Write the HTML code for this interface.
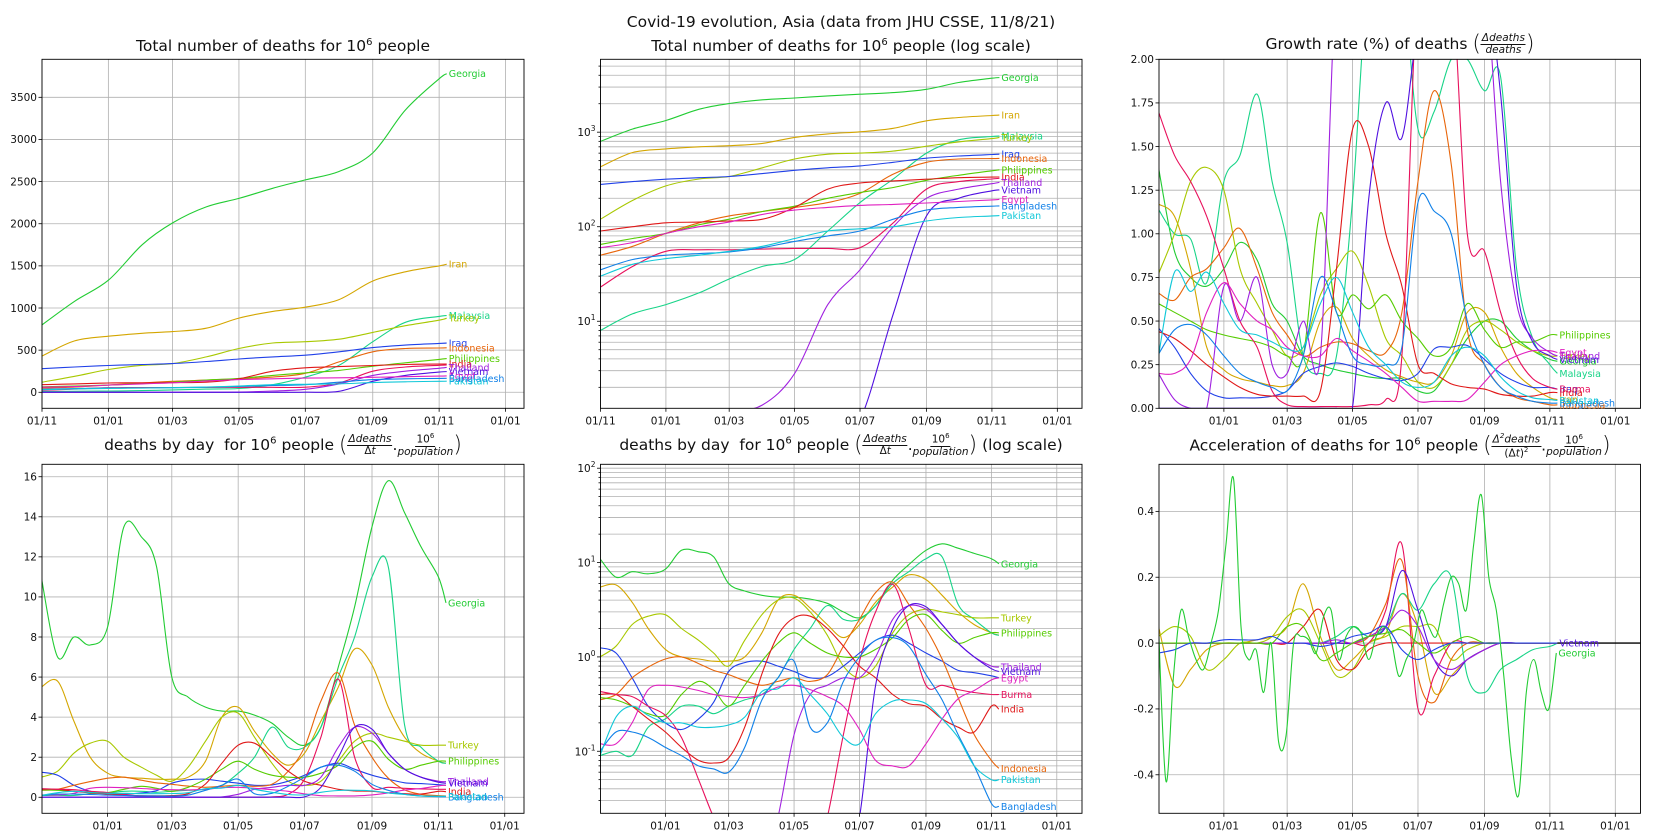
<!DOCTYPE html>
<html><head><meta charset="utf-8">
<style>
html,body{margin:0;padding:0;background:#fff;width:1675px;height:840px;overflow:hidden;font-family:"DejaVu Sans","Liberation Sans",sans-serif;}
#wrap{position:relative;width:1675px;height:840px;overflow:hidden;}
svg{position:absolute;left:0;top:0;}
.t{position:absolute;font-size:15.5px;color:#111;white-space:nowrap;transform:translateX(-50%);line-height:1;}
.fr{display:inline-flex;flex-direction:column;align-items:center;vertical-align:middle;font-size:10.5px;font-style:italic;line-height:1.05;}
.fr span:first-child{border-bottom:1px solid #111;padding:0 1px;}
.par{font-size:22px;vertical-align:middle;font-weight:100;}
</style></head><body>
<div id="wrap">
<svg id="s" width="1675" height="840"></svg>
<div class="t" style="left:841px;top:15px;">Covid-19 evolution, Asia (data from JHU CSSE, 11/8/21)</div>
<div class="t" style="left:283px;top:38px;">Total number of deaths for 10<sup style="font-size:10px">6</sup> people</div>
<div class="t" style="left:841px;top:38px;">Total number of deaths for 10<sup style="font-size:10px">6</sup> people (log scale)</div>
<div class="t" style="left:1400px;top:33px;">Growth rate (%) of deaths <span class="par">(</span><span class="fr"><span>Δdeaths</span><span>deaths</span></span><span class="par">)</span></div>
<div class="t" style="left:283px;top:433px;">deaths by day&nbsp; for 10<sup style="font-size:10px">6</sup> people <span class="par">(</span><span class="fr"><span>Δdeaths</span><span style="font-style:normal">Δ<i>t</i></span></span>.<span class="fr"><span style="font-style:normal">10<sup style="font-size:7px">6</sup></span><span>population</span></span><span class="par">)</span></div>
<div class="t" style="left:841px;top:433px;">deaths by day&nbsp; for 10<sup style="font-size:10px">6</sup> people <span class="par">(</span><span class="fr"><span>Δdeaths</span><span style="font-style:normal">Δ<i>t</i></span></span>.<span class="fr"><span style="font-style:normal">10<sup style="font-size:7px">6</sup></span><span>population</span></span><span class="par">)</span> (log scale)</div>
<div class="t" style="left:1400px;top:433px;">Acceleration of deaths for 10<sup style="font-size:10px">6</sup> people <span class="par">(</span><span class="fr"><span>Δ<sup style="font-size:7px">2</sup>deaths</span><span style="font-style:normal">(Δ<i>t</i>)<sup style="font-size:7px">2</sup></span></span>.<span class="fr"><span style="font-style:normal">10<sup style="font-size:7px">6</sup></span><span>population</span></span><span class="par">)</span></div>
</div>
<script>
// ---------- data ----------
const monthDays=[0,30,61,92,120,151,181,212,242,273,304,334,365,372];
const halfDays=[0,15,30,45,61,76,92,106,120,135,151,166,181,196,212,227,242,257,273,288,304,319,334,349,365,372];
const weekDays=[0,7,14,21,28,35,42,49,56,63,70,77,84,91,98,105,112,119,126,133,140,147,154,161,168,175,182,189,196,203,210,217,224,231,238,245,252,259,266,273,280,287,294,301,308,315,322,329,336,343,350,357,364,371];
const countries=["Georgia","Iran","Malaysia","Turkey","Iraq","Indonesia","Philippines","India","Burma","Thailand","Vietnam","Egypt","Bangladesh","Pakistan"];
const colors={Georgia:"#22cc33",Iran:"#d4a600",Malaysia:"#18d488",Turkey:"#a8c800",Iraq:"#2040e8",Indonesia:"#e8650a",Philippines:"#55cc00",India:"#e01818",Burma:"#e8105c",Thailand:"#a020e0",Vietnam:"#5010e0",Egypt:"#e020c0",Bangladesh:"#1080e8",Pakistan:"#10c8d8"};
// total deaths per 1e6 (monthDays)
const totGeorgia=[800,1080,1330,1750,2010,2200,2300,2420,2520,2620,2840,3350,3720,3780];
const totIran=[430,610,665,700,720,760,880,960,1010,1100,1320,1430,1500,1520];
const totMalaysia=[8,12,15,20,28,38,45,90,180,320,600,830,900,910];
const totTurkey=[120,190,270,320,340,420,520,585,600,630,710,790,855,880];
const totIraq=[280,300,318,330,340,365,395,420,440,480,530,560,580,585];
const totIndonesia=[50,62,85,110,130,145,160,180,225,360,480,520,525,528];
const totPhilippines=[65,75,85,105,120,145,165,200,230,260,310,350,390,400];
const totIndia=[90,100,110,112,115,120,160,250,290,305,318,330,335,336];
const totBurma=[23,38,55,57,57,58,59,59,60,110,250,300,320,325];
const totThailand=[0.9,0.9,1.0,1.0,1.1,1.3,2.8,15,35,100,200,250,285,295];
const totVietnam=[0.36,0.37,0.37,0.37,0.38,0.38,0.38,0.4,0.9,12,130,200,240,245];
const totEgypt=[60,68,85,100,112,135,150,160,168,172,178,185,192,195];
const totBangladesh=[35,45,50,52,54,60,70,80,90,120,150,160,165,166];
const totPakistan=[30,40,46,50,55,62,75,90,95,100,115,125,130,131];
// deaths by day per 1e6 (halfDays)
const dayGeorgia=[11,7,8,7.6,8.5,13.5,13,11.5,6,5,4.5,4.3,4.3,4.1,3.7,3,2.6,3.5,6.5,9.5,13.5,15.8,14.2,12.5,11,9.7];
const dayIran=[5.5,5.8,3.8,2,1.2,1,0.95,0.9,0.9,1,1.8,4,4.5,3.3,2.2,1.6,2.2,3.8,5.5,7.4,6.6,4.5,3,2.2,1.8,1.7];
const dayMalaysia=[0.09,0.1,0.09,0.18,0.22,0.3,0.3,0.25,0.3,0.35,0.4,0.6,1.2,2,3.5,2.5,2.5,3.5,6,8,11,11.5,3.6,2.5,1.8,1.7];
const dayTurkey=[1,1.3,2.2,2.7,2.8,2,1.5,1.1,0.8,1.5,2.8,4,4.2,3,1.7,0.8,0.6,0.8,1.8,2.8,3.2,3,2.8,2.6,2.6,2.6];
const dayIraq=[1.25,1.1,0.6,0.3,0.2,0.17,0.22,0.33,0.7,0.87,0.9,0.8,0.7,0.6,0.62,0.8,1.1,1.5,1.7,1.4,1.1,0.9,0.72,0.68,0.63,0.6];
const dayIndonesia=[0.35,0.4,0.6,0.78,0.95,1,0.85,0.72,0.65,0.56,0.5,0.55,0.6,0.55,0.65,1.3,2.5,4.8,6.2,3.6,2,0.95,0.37,0.15,0.08,0.066];
const dayPhilippines=[0.37,0.35,0.3,0.25,0.24,0.4,0.55,0.45,0.3,0.5,0.9,1.4,1.8,1.4,1.1,1.0,1.0,1.2,1.6,2.5,2.8,1.9,1.4,1.6,1.8,1.8];
const dayIndia=[0.4,0.4,0.3,0.22,0.16,0.11,0.08,0.075,0.085,0.18,0.66,1.7,2.6,2.7,2,1.3,0.8,0.6,0.4,0.32,0.3,0.22,0.18,0.16,0.3,0.28];
const dayBurma=[0.43,0.4,0.38,0.3,0.24,0.14,0.05,0.02,0.01,0.005,0.005,0.005,0.005,0.005,0.02,0.15,0.9,3,5.9,2,0.5,0.5,0.45,0.42,0.4,0.4];
const dayThailand=[0.005,0.005,0.005,0.005,0.005,0.005,0.005,0.005,0.005,0.005,0.005,0.02,0.15,0.4,0.5,0.6,0.6,1,2.5,3.5,3.2,2.2,1.4,1,0.8,0.78];
const dayVietnam=[0.002,0.002,0.002,0.002,0.002,0.002,0.002,0.002,0.002,0.002,0.002,0.002,0.002,0.002,0.003,0.005,0.02,0.5,2,3.5,3.4,2.2,1.4,1,0.75,0.7];
const dayEgypt=[0.12,0.12,0.2,0.45,0.5,0.48,0.44,0.4,0.38,0.37,0.4,0.48,0.5,0.45,0.38,0.3,0.17,0.08,0.07,0.07,0.12,0.22,0.36,0.44,0.57,0.6];
const dayBangladesh=[0.1,0.16,0.16,0.14,0.11,0.09,0.07,0.065,0.06,0.11,0.35,0.6,0.9,0.18,0.2,0.55,1,1.5,1.6,1.3,0.65,0.35,0.15,0.07,0.028,0.026];
const dayPakistan=[0.09,0.23,0.3,0.24,0.2,0.2,0.18,0.18,0.19,0.23,0.43,0.46,0.6,0.4,0.25,0.14,0.12,0.25,0.34,0.35,0.32,0.22,0.14,0.07,0.05,0.05];
// growth rate % (halfDays)
const grGeorgia=[1.38,0.9,0.75,0.7,0.8,0.95,0.85,0.6,0.5,0.3,0.25,0.22,0.2,0.18,0.17,0.17,0.1,0.1,0.25,0.4,0.5,0.5,0.4,0.33,0.28,0.27];
const grIran=[1.17,1.1,0.8,0.35,0.22,0.17,0.15,0.13,0.13,0.2,0.5,0.58,0.4,0.3,0.22,0.18,0.15,0.15,0.3,0.55,0.55,0.35,0.2,0.12,0.06,0.05];
const grMalaysia=[1.14,1.0,0.97,0.72,1.3,1.45,1.8,1.3,0.95,0.3,0.2,0.3,1.2,2.5,2.5,2.5,1.6,1.7,2.0,2.0,1.82,1.9,0.8,0.4,0.25,0.2];
const grTurkey=[0.77,1.0,1.3,1.38,1.25,0.8,0.6,0.45,0.3,0.35,0.65,0.8,0.9,0.7,0.4,0.3,0.15,0.12,0.25,0.45,0.5,0.45,0.38,0.33,0.3,0.3];
const grIraq=[0.46,0.35,0.2,0.1,0.06,0.06,0.06,0.07,0.1,0.2,0.24,0.26,0.24,0.2,0.17,0.16,0.2,0.34,0.35,0.36,0.28,0.2,0.15,0.12,0.12,0.11];
const grIndonesia=[0.66,0.62,0.75,0.8,0.92,1.03,0.8,0.55,0.42,0.3,0.35,0.38,0.37,0.33,0.32,0.55,1.3,1.82,1.4,0.45,0.25,0.12,0.06,0.04,0.02,0.02];
const grPhilippines=[0.6,0.55,0.5,0.45,0.42,0.4,0.38,0.35,0.3,0.3,1.12,0.55,0.65,0.57,0.65,0.5,0.4,0.3,0.35,0.6,0.45,0.35,0.38,0.38,0.42,0.42];
const grIndia=[0.44,0.4,0.33,0.25,0.18,0.12,0.08,0.07,0.07,0.07,0.1,0.8,1.6,1.5,1.0,0.7,0.25,0.2,0.14,0.12,0.11,0.08,0.07,0.07,0.09,0.09];
const grBurma=[1.7,1.45,1.3,1.1,0.8,0.5,0.35,0.1,0.02,0.01,0.01,0.01,0.01,0.02,0.05,0.3,2.5,2.5,2.5,1.0,0.9,0.55,0.3,0.17,0.12,0.11];
const grThailand=[0.2,0.05,0,0,0.7,0.5,0.75,0.25,0.2,0.5,0.3,2.5,2.5,2.5,2.5,2.5,2.5,2.5,2.5,2.5,2.5,1.3,0.6,0.4,0.32,0.3];
const grVietnam=[0,0,0,0,0,0,0,0,0,0,0,0,0.01,1.2,1.75,1.55,2.2,2.5,2.5,2.5,2.5,1.8,0.7,0.38,0.3,0.28];
const grEgypt=[0.2,0.2,0.28,0.55,0.72,0.6,0.5,0.45,0.35,0.3,0.3,0.4,0.33,0.27,0.2,0.12,0.04,0.04,0.04,0.05,0.15,0.25,0.3,0.33,0.33,0.32];
const grBangladesh=[0.31,0.45,0.48,0.42,0.3,0.2,0.15,0.12,0.1,0.3,0.75,0.55,0.3,0.25,0.25,0.35,1.18,1.13,1.0,0.5,0.25,0.12,0.07,0.04,0.03,0.03];
const grPakistan=[0.3,0.78,0.67,0.78,0.6,0.45,0.42,0.38,0.34,0.35,0.6,0.75,0.55,0.35,0.25,0.15,0.12,0.15,0.3,0.35,0.3,0.18,0.1,0.06,0.05,0.045];
// acceleration (Georgia weekly, others halfDays)
const accGeorgia=[0.05,-0.42,-0.1,0.1,0.02,-0.05,-0.08,0,0.1,0.3,0.5,0.05,-0.05,-0.02,-0.15,0,-0.3,-0.28,0,0.02,0.01,-0.03,0.08,0.1,-0.05,0.02,0.05,0.03,-0.05,0.02,0.05,0.01,-0.1,-0.05,0,0.1,0.05,0.02,0.12,0.2,0.18,0.1,0.3,0.45,0.2,0.1,-0.1,-0.35,-0.46,-0.15,-0.05,-0.15,-0.2,-0.03];
const accIran=[0.05,-0.13,-0.08,-0.02,0,0,0.01,0.02,0.05,0.18,0.02,-0.08,-0.05,0,0.03,0.15,0.05,-0.15,-0.1,-0.05,-0.02,0,0,0,0,0];
const accTurkey=[0.02,0.05,0.02,-0.08,-0.05,0,0,0.02,0.08,0.1,0,-0.1,-0.08,0,0.02,0.05,0.05,0.05,-0.05,-0.02,0,0,0,0,0,0];
const accMalaysia=[0,0,0,0,0,0,0,0,0,0,0,0.02,0.05,0.02,0.05,0.15,0.1,0.18,0.2,-0.1,-0.15,-0.08,-0.05,-0.02,-0.01,0];
const accBurma=[0,0,0,0,0,0,0,0,0,0,0,0,0,0,0.1,0.3,-0.2,-0.1,0,0,0,0,0,0,0,0];
const accIndonesia=[0,0,0,0,0,0,0,0,0,0,0,0,0,0.02,0.12,0.25,-0.1,-0.18,-0.05,0,0,0,0,0,0,0];
const accIndia=[0,0,0,0,0,0,0,0,0,0.05,0.1,-0.05,-0.08,-0.02,0,0,0,0,0,0,0,0,0,0,0,0];
const accVietnam=[0,0,0,0,0,0,0,0,0,0,0,0,0,0.02,0.05,0.22,0.1,-0.05,-0.1,-0.05,-0.02,0,0,0,0,0];
const accThailand=[0,0,0,0,0,0,0,0,0,0,0,0.01,0,0.02,0.05,0.1,0.05,-0.05,-0.08,-0.05,-0.02,0,0,0,0,0];
const accPhilippines=[0,0,0,0,0,0,0,0,0.05,0.05,-0.05,-0.03,0,0.02,0.03,0.04,0,-0.03,0,0.02,0,0,0,0,0,0];
const accIraq=[-0.03,-0.02,0,0,0.01,0.01,0.01,0.02,0,0,-0.01,0,0.02,0.03,0.05,-0.02,-0.05,-0.02,0,0,0,0,0,0,0,0];
const xTickLabels=["01/11","01/01","01/03","01/05","01/07","01/09","01/11","01/01"];
const xTickDays=[0,61,120,181,242,304,365,426];

const tot={Georgia:totGeorgia,Iran:totIran,Malaysia:totMalaysia,Turkey:totTurkey,Iraq:totIraq,Indonesia:totIndonesia,Philippines:totPhilippines,India:totIndia,Burma:totBurma,Thailand:totThailand,Vietnam:totVietnam,Egypt:totEgypt,Bangladesh:totBangladesh,Pakistan:totPakistan};
const day={Georgia:dayGeorgia,Iran:dayIran,Malaysia:dayMalaysia,Turkey:dayTurkey,Iraq:dayIraq,Indonesia:dayIndonesia,Philippines:dayPhilippines,India:dayIndia,Burma:dayBurma,Thailand:dayThailand,Vietnam:dayVietnam,Egypt:dayEgypt,Bangladesh:dayBangladesh,Pakistan:dayPakistan};
const gr={Georgia:grGeorgia,Iran:grIran,Malaysia:grMalaysia,Turkey:grTurkey,Iraq:grIraq,Indonesia:grIndonesia,Philippines:grPhilippines,India:grIndia,Burma:grBurma,Thailand:grThailand,Vietnam:grVietnam,Egypt:grEgypt,Bangladesh:grBangladesh,Pakistan:grPakistan};
const acc={Iran:accIran,Turkey:accTurkey,Malaysia:accMalaysia,Burma:accBurma,Indonesia:accIndonesia,India:accIndia,Vietnam:accVietnam,Thailand:accThailand,Philippines:accPhilippines,Iraq:accIraq};

const NS="http://www.w3.org/2000/svg";
const svg=document.getElementById('s');
function mk(tag,attrs,parent){const e=document.createElementNS(NS,tag);for(const k in attrs)e.setAttribute(k,attrs[k]);(parent||svg).appendChild(e);return e;}
const COLS=[[42,524],[600.5,1082],[1159,1640.5]];
const SPANS=[443,449,449];
const ROWS=[[59.3,408.3],[464.3,813.3]];
let clipId=0;
function axes(name,col,row,opt){
  const [x0,x1]=COLS[col],[y0,y1]=ROWS[row];
  const d0=opt.d0, span=SPANS[col];
  const sx=d=>x0+(d-d0)*(x1-x0)/span;
  let sy;
  if(opt.log){const a=Math.log10(opt.ymin),b=Math.log10(opt.ymax);sy=v=>y1-(Math.log10(Math.max(v,1e-6))-a)/(b-a)*(y1-y0);}
  else sy=v=>y1-(v-opt.ymin)/(opt.ymax-opt.ymin)*(y1-y0);
  const g=mk('g',{});
  
  
  const cid='c'+(clipId++);
  const cp=mk('clipPath',{id:cid},g);mk('rect',{x:x0,y:y0,width:x1-x0,height:y1-y0},cp);
  xTickDays.forEach((d,i)=>{if(d<d0)return;const x=sx(d);if(x>x1)return;
    const l=mk('line',{x1:x,x2:x,y1:y0,y2:y1,stroke:'#b0b0b0','stroke-width':0.8},g);
    
    
    mk('line',{x1:x,x2:x,y1:y1,y2:y1+3.5,stroke:'#000','stroke-width':0.8},g);
    const t=mk('text',{x:x,y:y1+16,'font-size':10.5,'text-anchor':'middle',fill:'#111','font-family':'DejaVu Sans, Liberation Sans, sans-serif'},g);
    t.textContent=xTickLabels[i];
    
    
  });
  if(opt.log){
    for(let e=Math.floor(Math.log10(opt.ymin));e<=Math.ceil(Math.log10(opt.ymax));e++){
      for(let m=1;m<10;m++){const v=m*Math.pow(10,e);if(v<opt.ymin||v>opt.ymax)continue;const y=sy(v);
        mk('line',{x1:x0,x2:x1,y1:y,y2:y,stroke:'#b0b0b0','stroke-width':0.8},g);
        mk('line',{x1:x0-(m==1?3.5:2),x2:x0,y1:y,y2:y,stroke:'#000','stroke-width':0.8},g);
        if(m==1){const t=mk('text',{x:x0-5,y:y+4,'font-size':10.5,'text-anchor':'end',fill:'#111','font-family':'DejaVu Sans, sans-serif'},g);
          t.innerHTML='10<tspan dy="-5" font-size="7.5">'+e+'</tspan>';
          
          }
      }}
  } else {
    opt.yticks.forEach(v=>{const y=sy(v);
      mk('line',{x1:x0,x2:x1,y1:y,y2:y,stroke:'#b0b0b0','stroke-width':0.8},g);
      mk('line',{x1:x0-3.5,x2:x0,y1:y,y2:y,stroke:'#000','stroke-width':0.8},g);
      const t=mk('text',{x:x0-5,y:y+3.8,'font-size':10.5,'text-anchor':'end',fill:'#111','font-family':'DejaVu Sans, sans-serif'},g);
      t.textContent=opt.fmt?opt.fmt(v):String(v);
      
      });
  }
  const plot=mk('g',{'clip-path':'url(#'+cid+')'},g);
  mk('rect',{x:x0,y:y0,width:x1-x0,height:y1-y0,fill:'none',stroke:'#000','stroke-width':0.9},g);
  return {sx,sy,plot,g,x0,x1,y0,y1};
}
function smooth(pts){
  let d='M'+pts[0][0].toFixed(1)+','+pts[0][1].toFixed(1);
  for(let i=0;i<pts.length-1;i++){
    const p0=pts[Math.max(0,i-1)],p1=pts[i],p2=pts[i+1],p3=pts[Math.min(pts.length-1,i+2)];
    const c1=[p1[0]+(p2[0]-p0[0])/6,p1[1]+(p2[1]-p0[1])/6],c2=[p2[0]-(p3[0]-p1[0])/6,p2[1]-(p3[1]-p1[1])/6];
    d+='C'+c1[0].toFixed(1)+','+c1[1].toFixed(1)+' '+c2[0].toFixed(1)+','+c2[1].toFixed(1)+' '+p2[0].toFixed(1)+','+p2[1].toFixed(1);
  }
  return d;
}
function series(ax,name,days,vals,label,lo,hi){
  const pts=days.map((d,i)=>[ax.sx(d),ax.sy(Math.max(lo==null?-1e9:lo,Math.min(hi==null?1e9:hi,vals[i])))]);
  const p=mk('path',{d:smooth(pts),fill:'none',stroke:colors[name],'stroke-width':1.1},ax.plot);
  
  
  if(label){const last=pts[pts.length-1];
    if(last[1]>=ax.y0-2&&last[1]<=ax.y1+2){
    const t=mk('text',{x:last[0]+2,y:last[1]+3.5,'font-size':9.5,fill:colors[name],'font-family':'DejaVu Sans, sans-serif'},ax.g);
    t.textContent=name;
    
    }}
}
// Panel 1
const a1=axes('panel-total-deaths',0,0,{d0:0,ymin:-190,ymax:3951,yticks:[0,500,1000,1500,2000,2500,3000,3500]});
countries.forEach(c=>series(a1,c,monthDays,tot[c],c!=='Burma'));
// Panel 2
const a2=axes('panel-total-deaths-log',1,0,{d0:0,log:true,ymin:1.2,ymax:5900});
countries.forEach(c=>series(a2,c,monthDays,tot[c],c!=='Burma'));
// Panel 3
const a3=axes('panel-growth-rate',2,0,{d0:0.5,ymin:0,ymax:2,yticks:[0,0.25,0.5,0.75,1,1.25,1.5,1.75,2],fmt:v=>v.toFixed(2)});
countries.forEach(c=>series(a3,c,halfDays,gr[c],true,-0.05,2.6));
// Panel 4
const a4=axes('panel-deaths-by-day',0,1,{d0:0.7,ymin:-0.8,ymax:16.62,yticks:[0,2,4,6,8,10,12,14,16]});
countries.forEach(c=>series(a4,c,halfDays,day[c],['Georgia','Turkey','Philippines','Thailand','Vietnam','India','Pakistan','Bangladesh'].includes(c)));
// Panel 5
const a5=axes('panel-deaths-by-day-log',1,1,{d0:0.5,log:true,ymin:0.022,ymax:110});
countries.forEach(c=>series(a5,c,halfDays,day[c],['Georgia','Turkey','Philippines','Thailand','Vietnam','Egypt','Burma','India','Indonesia','Pakistan','Bangladesh'].includes(c),0.0005));
// Panel 6
const a6=axes('panel-acceleration',2,1,{d0:0.5,ymin:-0.517,ymax:0.543,yticks:[-0.4,-0.2,0,0.2,0.4],fmt:v=>v.toFixed(1)});
const zl=mk('line',{x1:a6.sx(372),x2:a6.x1,y1:a6.sy(0),y2:a6.sy(0),stroke:'#000','stroke-width':1.4},a6.g);


Object.keys(acc).forEach(c=>series(a6,c,halfDays,acc[c],c==='Vietnam'));
series(a6,'Georgia',weekDays,accGeorgia,true);
</script>
</body></html>
